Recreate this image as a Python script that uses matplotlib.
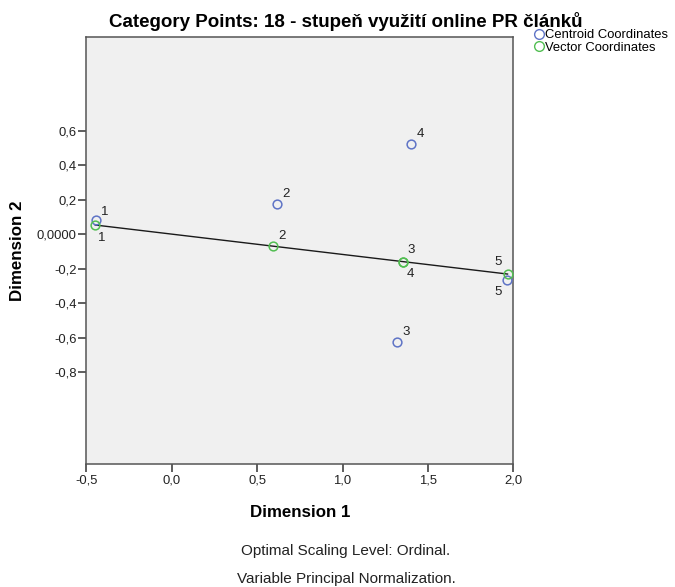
import matplotlib
matplotlib.use('Agg')
from matplotlib import pyplot as plt
from matplotlib.lines import Line2D

plt.rcParams['font.family'] = ['Liberation Sans', 'DejaVu Sans']

categories = ['1', '2', '3', '4', '5']
centroid_x = [-0.444, 0.619, 1.318, 1.402, 1.960]
centroid_y = [0.083, 0.174, -0.624, 0.523, -0.266]
vector_x = [-0.448, 0.590, 1.355, 1.355, 1.966]
vector_y = [0.054, -0.068, -0.159, -0.159, -0.231]

xticks = [-0.5, 0.0, 0.5, 1.0, 1.5, 2.0]
yticks = [-0.8, -0.6, -0.4, -0.2, 0.0, 0.2, 0.4, 0.6]

blue = '#5F74C6'
green = '#52BE52'

fig = plt.figure(figsize=(6.75, 5.87), dpi=100)
ax = fig.add_axes([0.1279, 0.2090, 0.6326, 0.7274])
ax.set_facecolor('#F0F0F0')

# vector line between the extreme vector points
ix = sorted(range(len(vector_x)), key=lambda i: vector_x[i])
ax.plot([vector_x[ix[0]], vector_x[ix[-1]]], [vector_y[ix[0]], vector_y[ix[-1]]],
        color='#1A1A1A', lw=1.0, zorder=2)

ax.plot(centroid_x, centroid_y, 'o', mfc='none', mec=blue, ms=6.3, mew=1.1, zorder=3)
ax.plot(vector_x, vector_y, 'o', mfc='none', mec=green, ms=6.3, mew=1.1, zorder=3)

# label offsets in points
c_off = [(6, 6), (6.5, 7.2), (6.8, 7.2), (6.7, 7.2), (-5.8, -8.4)]
v_off = [(4.8, -9.6), (6.9, 7.2), (5.8, 8.4), (5.3, -8.9), (-6.5, 8.9)]
for i, c in enumerate(categories):
    ax.annotate(c, (centroid_x[i], centroid_y[i]), xytext=c_off[i],
                textcoords='offset points', fontsize=9.5, color='#222222',
                ha='center', va='center')
    ax.annotate(c, (vector_x[i], vector_y[i]), xytext=v_off[i],
                textcoords='offset points', fontsize=9.5, color='#222222',
                ha='center', va='center')

ax.set_xlim(-0.5, 2.0)
ax.set_ylim(-1.337, 1.145)
ax.set_xticks(xticks)
ax.set_xticklabels([f'{t:.1f}'.replace('.', ',') for t in xticks])
ax.set_yticks(yticks)
ax.set_yticklabels(['0,0000' if t == 0 else f'{t:.1f}'.replace('.', ',') for t in yticks])
ax.tick_params(direction='out', length=5.5, width=1.1, color='#333333',
               labelsize=9.4, labelcolor='#222222', pad=1.5)
for s in ax.spines.values():
    s.set_color('#555555')
    s.set_linewidth(1.1)

ax.set_xlabel('Dimension 1', fontsize=12.2, fontweight='bold', va='baseline')
ax.xaxis.set_label_coords(0.5, -0.1227)
ax.set_ylabel('Dimension 2', fontsize=12.2, fontweight='bold', va='center')
ax.yaxis.set_label_coords(-0.161, 0.5)

fig.text(0.5126, 0.9545, 'Category Points: 18 - stupeň využití online PR článků',
         ha='center', va='baseline', fontsize=13.5, fontweight='bold')

handles = [Line2D([], [], marker='o', ls='none', mfc='none', mec=blue, ms=7, mew=1),
           Line2D([], [], marker='o', ls='none', mfc='none', mec=green, ms=7, mew=1)]
fig.legend(handles, ['Centroid Coordinates', 'Vector Coordinates'],
           loc='upper left', bbox_to_anchor=(0.7905, 0.9500), frameon=False,
           fontsize=9.4, handletextpad=0.1, labelspacing=0.0, borderpad=0,
           handlelength=0.8, borderaxespad=0)

fig.text(0.5126, 0.0545, 'Optimal Scaling Level: Ordinal.', ha='center', va='baseline',
         fontsize=11, color='#222222')
fig.text(0.5126, 0.007, 'Variable Principal Normalization.', ha='center', va='baseline',
         fontsize=11, color='#222222')

fig.savefig('out.png', dpi=100, facecolor='white')
